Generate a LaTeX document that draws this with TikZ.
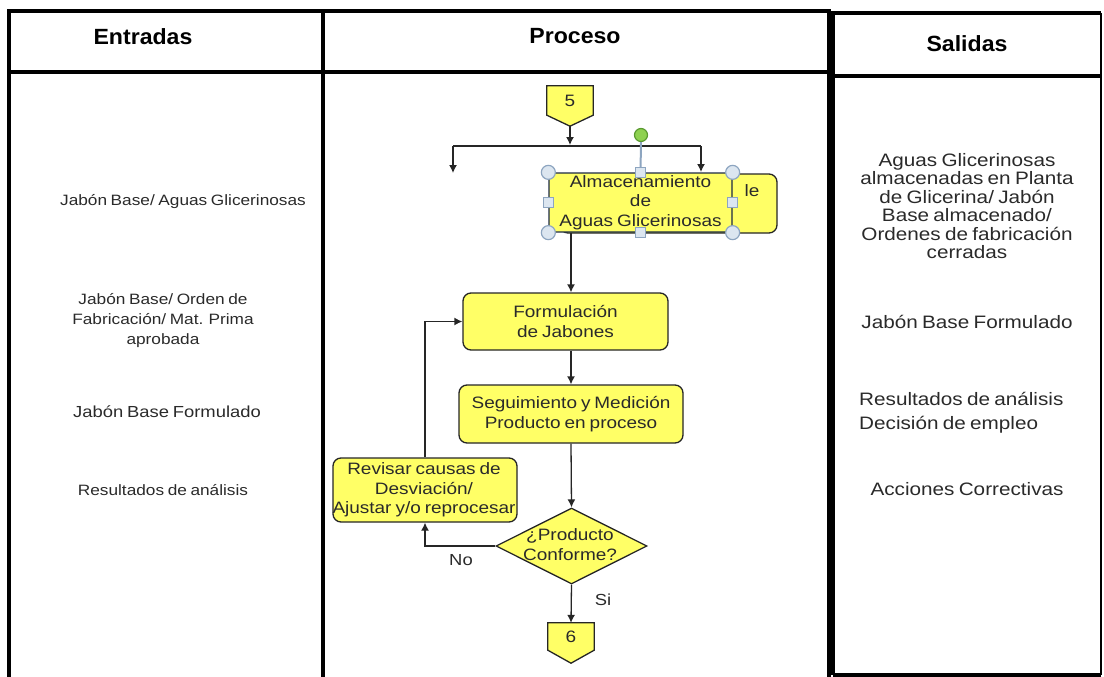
\documentclass[tikz,border=0pt]{standalone}
\usepackage{fontspec}
\setmainfont{Liberation Sans}[FakeStretch=1.15, WordSpace=0.75]
\newfontfamily\headfont{Liberation Sans}[FakeStretch=1.05]
\usetikzlibrary{arrows.meta,shapes.geometric,backgrounds}

\definecolor{boxfill}{HTML}{FFFF66}
\definecolor{edge}{HTML}{262626}
\definecolor{txt}{HTML}{2A2A2A}
\definecolor{frameblue}{HTML}{1C2A44}
\definecolor{handlefill}{HTML}{DCE6F0}
\definecolor{handleedge}{HTML}{8DA5C0}
\definecolor{rotfill}{HTML}{8ED150}
\definecolor{rotedge}{HTML}{5A9A30}

\tikzset{
  gridline/.style={line width=3.5pt, black},
  thinframe/.style={line width=2.5pt, black},
  hdr/.style={font=\headfont\bfseries\fontsize{22}{26}\selectfont, text=black, inner sep=0},
  coltext/.style={font=\fontsize{15}{20}\selectfont, align=center, text=txt, inner sep=0},
  outtext/.style={font=\fontsize{18}{18.5}\selectfont, align=center, text=txt, inner sep=0},
  box/.style={draw=edge, fill=boxfill, line width=1.3pt, rounded corners=8pt,
              align=center, inner sep=0, font=\fontsize{16.5}{19.5}\selectfont, text=txt},
  boxtext/.style={align=center, inner sep=0, font=\fontsize{16.5}{19.5}\selectfont, text=txt},
  offpage/.style={rectangle, inner sep=0, font=\fontsize{16.5}{19.5}\selectfont, text=txt},
  offshape/.style={draw=edge, fill=boxfill, line width=1.3pt},
  flow/.style={line width=1.3pt, draw=edge},
  arr/.style={flow, -{Latex[length=8pt,width=8pt]}},
  flowlabel/.style={inner sep=0, font=\fontsize{16}{19}\selectfont, text=txt},
  handle/.style={circle, draw=handleedge, fill=handlefill, line width=1.2pt, minimum size=14pt, inner sep=0},
  grip/.style={rectangle, draw=handleedge, fill=handlefill, line width=1.2pt, minimum size=10pt, inner sep=0},
  rothandle/.style={circle, draw=rotedge, fill=rotfill, line width=1.2pt, minimum size=13pt, inner sep=0},
  rotline/.style={draw=handleedge, line width=2pt},
}

\begin{document}
\begin{tikzpicture}[x=1pt,y=-1pt]
\useasboundingbox (0,0) rectangle (1104,677);

% ---- table frame ----
\draw[gridline] (9,677) -- (9,11) -- (829,11) -- (829,677);
\draw[gridline] (9,72) -- (829,72);
\draw[gridline] (323,11) -- (323,677);
\draw[gridline] (833,675) -- (833,13) -- (1101,13);
\draw[thinframe] (1101,13) -- (1101,675);
\draw[gridline] (833,675) -- (1101,675);
\draw[gridline] (833,76) -- (1101,76);

% ---- column headers ----
\node[hdr] (hE) at (143,37) {Entradas};
\node[hdr] (hP) at (575,36) {Proceso};
\node[hdr] (hS) at (967,44) {Salidas};

% ---- inputs ----
\node[coltext] (eA) at (183,202) {Jabón Base/ Aguas Glicerinosas};
\node[coltext] (eB) at (163,321) {Jabón Base/ Orden de\\Fabricación/ Mat. Prima\\aprobada};
\node[coltext, font=\fontsize{16}{20}\selectfont] (eC) at (167,412) {Jabón Base Formulado};
\node[coltext] (eD) at (163,490) {Resultados de análisis};

% ---- outputs ----
\node[outtext] (sA) at (967,206) {Aguas Glicerinosas\\almacenadas en Planta\\de Glicerina/ Jabón\\Base almacenado/\\Ordenes de fabricación\\cerradas};
\node[outtext] (sB) at (967,322) {Jabón Base Formulado};
\node[outtext, align=left, font=\fontsize{18}{24}\selectfont, anchor=west] (sC) at (859,413) {Resultados de análisis\\Decisión de empleo};
\node[outtext] (sD) at (967,489) {Acciones Correctivas};

% ---- process flow ----
\coordinate (spine) at (571,0);

% off-page connector 5
\node[offpage, minimum width=46pt, minimum height=29pt] (c5) at (570,100.5) {5};
\coordinate (c5tip) at ([yshift=-11pt]c5.south);
\begin{scope}[on background layer]
  \draw[offshape] (c5.north west) -- (c5.north east) -- (c5.south east) -- (c5tip) -- (c5.south west) -- cycle;
\end{scope}

% branch below connector 5
\coordinate (split)  at (570,145);
\coordinate (splitL) at (453,146);
\coordinate (splitR) at (701,146);
\coordinate (dropL)  at (453,173);
\coordinate (dropR)  at (701,172);
\draw[arr] (c5tip) -- (split);
\draw[flow] (splitL) -- (splitR);
\draw[arr] (splitL) -- (dropL);
\draw[arr] (splitR) -- (dropR);

% storage boxes (rear one partly covered)
\node[box, minimum width=217pt, minimum height=59pt] (almback) at (668.5,203.5) {};
\node[boxtext] (le) at (752,191) {le};
\node[box, draw=frameblue, rounded corners=5pt, minimum width=183pt, minimum height=59pt] (alm) at (640.5,202.5)
  {Almacenamiento\\de\\Aguas Glicerinosas};

% selection handles on the storage box
\node[rothandle] (rot) at (641,135) {};
\draw[rotline] (rot.south) -- (alm.north);
\foreach \a in {north, south, east, west}
  \node[grip] (g-\a) at (alm.\a) {};
\foreach \a in {north west, north east, south west, south east}
  \node[handle] (h-\a) at (alm.\a) {};

% formulation and monitoring
\node[box, minimum width=205pt, minimum height=57pt] (form) at (565.5,321.5) {Formulación\\de Jabones};
\node[box, minimum width=224pt, minimum height=58pt] (seg) at (571,414) {Seguimiento y Medición\\Producto en proceso};

% decision
\node[diamond, draw=edge, fill=boxfill, line width=1.3pt, minimum width=151pt, minimum height=76pt, inner sep=0] (dec) at (571.5,546) {};
\node[boxtext] (dect) at (570,544.5) {¿Producto\\Conforme?};

% corrective action
\node[box, minimum width=184pt, minimum height=64pt] (rev) at (425,490) {};
\node[boxtext] (revt) at (424,490) {Revisar causas de\\Desviación/\\Ajustar y/o reprocesar};

% off-page connector 6
\node[offpage, minimum width=46pt, minimum height=27pt] (c6) at (571,636.5) {6};
\coordinate (c6tip) at ([yshift=-13pt]c6.south);
\begin{scope}[on background layer]
  \draw[offshape] (c6.north west) -- (c6.north east) -- (c6.south east) -- (c6tip) -- (c6.south west) -- cycle;
\end{scope}

% connectors
\draw[arr] (alm.south -| spine) -- (form.north -| spine);
\draw[arr] (form.south -| spine) -- (seg.north -| spine);
\draw[arr] (seg.south -| spine) -- (dec.north);
\draw[arr] (dec.south) -- (c6.north);
\draw[arr] (dec.west) -| (rev.south);
\draw[arr] (rev.north) |- (form.west);

\node[flowlabel] (no) at (461,560) {No};
\node[flowlabel] (si) at (603,600) {Si};
\end{tikzpicture}
\end{document}
